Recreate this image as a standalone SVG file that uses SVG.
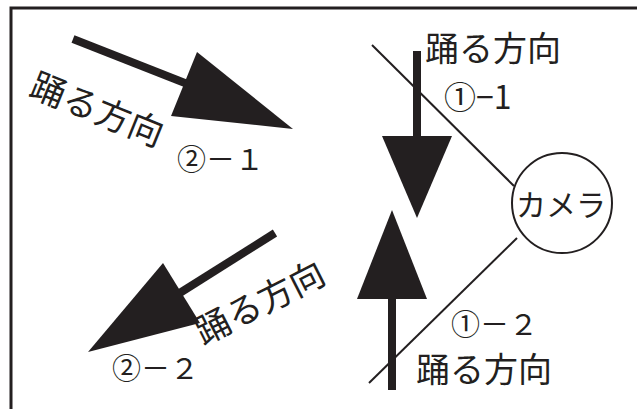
<svg xmlns="http://www.w3.org/2000/svg" width="637" height="409" viewBox="0 0 637 409">
<style>
.t{font-family:"Noto Sans CJK JP","Noto Sans",sans-serif;fill:#231f20}
.big{font-size:34px}
.lbl{font-size:29px}
.thin{stroke:#231f20;stroke-width:2;fill:none}
.shaft{stroke:#231f20;stroke-width:8;fill:none}
.head{fill:#231f20}
</style>
<rect x="0" y="0" width="637" height="409" fill="#ffffff"/>
<rect x="11" y="8" width="640" height="420" fill="none" stroke="#231f20" stroke-width="3"/>
<g id="connectors">
<line class="thin" x1="372" y1="45" x2="514" y2="186"/>
<line class="thin" x1="517" y1="238" x2="369" y2="383"/>
</g>
<g id="arrow-2-1">
<line class="shaft" x1="73" y1="39" x2="190" y2="85"/>
<polygon class="head" points="197,52 171,116 293,129"/>
<text class="t" font-size="35" transform="translate(97,110) rotate(22)" text-anchor="middle" y="12">踊る方向</text>
<text class="t lbl" x="177" y="170">②－１</text>
</g>
<g id="arrow-2-2">
<line class="shaft" x1="275" y1="233" x2="175" y2="296"/>
<polygon class="head" points="163,263 200,323 88,352"/>
<text class="t" font-size="35" transform="translate(260,303) rotate(-27)" text-anchor="middle" y="12">踊る方向</text>
<text class="t lbl" x="112" y="379">②－２</text>
</g>
<g id="arrow-1-1">
<line class="shaft" x1="417" y1="51" x2="417" y2="140"/>
<polygon class="head" points="382,136 452,136 417,218"/>
<text class="t big" x="425" y="61">踊る方向</text>
<text class="t" font-size="32" x="444" y="109">①−1</text>
</g>
<g id="arrow-1-2">
<line class="shaft" x1="392" y1="295" x2="392" y2="390"/>
<polygon class="head" points="392,210 357,299 427,299"/>
<text class="t lbl" x="451" y="335">①－２</text>
<text class="t big" x="416" y="382">踊る方向</text>
</g>
<g id="camera">
<circle cx="562" cy="203" r="50" fill="#ffffff" stroke="#231f20" stroke-width="2"/>
<text class="t" x="561" y="216" font-size="30" text-anchor="middle">カメラ</text>
</g>
</svg>
